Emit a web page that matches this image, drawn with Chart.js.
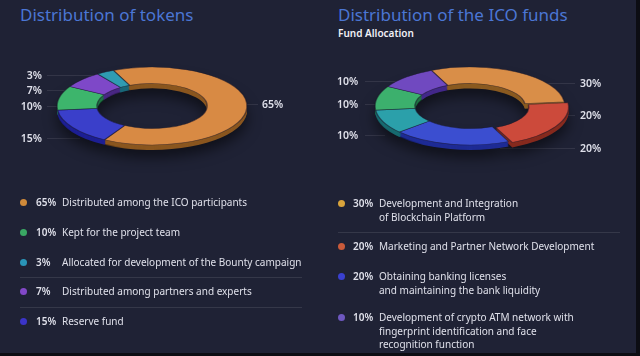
<!DOCTYPE html>
<html>
<head>
<meta charset="utf-8">
<script src="https://cdn.jsdelivr.net/npm/chart.js@4.4.1/dist/chart.umd.min.js"></script>
<style>
  body { margin: 0; background: #0c0d13; }
  #panel { position: relative; width: 636px; height: 353px; background: #1f2235; overflow: hidden;
           font-family: "Noto Sans", sans-serif; color: #dfe0ea; }
  .title { position: absolute; top: 3px; font-size: 17px; color: #4b76d4; white-space: nowrap; }
  .sub { position: absolute; top: 26px; left: 338px; font-size: 10px; font-weight: 600; color: #f0f0f5; }
  canvas { position: absolute; top: 0; }
  .pct { position: absolute; font-size: 10.5px; font-weight: 600; line-height: 14px; white-space: nowrap; }
  .lead { position: absolute; height: 1px; background: rgba(255,255,255,0.09); }
  .row { position: absolute; font-size: 10px; line-height: 13.5px; white-space: nowrap; }
  .row .dot { position: absolute; left: 0; top: 3px; width: 7px; height: 7px; border-radius: 50%; }
  .row .p { position: absolute; font-weight: 600; }
  .row .t { position: absolute; }
  .sep { position: absolute; height: 1px; background: rgba(255,255,255,0.1); }
</style>
</head>
<body>
<div id="panel">
  <div class="title" style="left:20px">Distribution of tokens</div>
  <div class="title" style="left:338px">Distribution of the ICO funds</div>
  <div class="sub">Fund Allocation</div>
  <div id="leads"></div>
  <canvas id="tokenChart" width="300" height="212" style="left:2px"></canvas>
  <canvas id="fundChart" width="300" height="212" style="left:320px"></canvas>
</div>
<script>
// tokens, in drawing order (clockwise from the top)
const tokenLabels = [
  "Distributed among the ICO participants",
  "Reserve fund",
  "Kept for the project team",
  "Distributed among partners and experts",
  "Allocated for development of the Bounty campaign"
];
const tokenValues = [65, 15, 10, 7, 3];
const tokenColors = ["#d88a44", "#3a3fca", "#3db56c", "#7e48c8", "#2f9cb2"];
const tokenSides = ["#8a561f", "#1d1f94", "#1e7444", "#492783", "#196777"];
const tokenDots = ["#d08a3a", "#3b34c8", "#3aa864", "#8248c8", "#2a95b8"];
const tokenLegendOrder = [0, 2, 4, 3, 1];

// ICO funds, in drawing order
const fundLabels = [
  "Development and Integration\nof Blockchain Platform",
  "Marketing and Partner Network Development",
  "Obtaining banking licenses\nand maintaining the bank liquidity",
  "",
  "",
  "Development of crypto ATM network with\nfingerprint identification and face\nrecognition function"
];
const fundValues = [30, 20, 20, 10, 10, 10];
const fundColors = ["#d98e48", "#cc4a3b", "#3b4ed0", "#2ba0aa", "#3cb06d", "#7049c0"];
const fundSides = ["#8a5a20", "#862a1e", "#1e2b95", "#176a70", "#1e7244", "#43288a"];
const fundDots = ["#d9a43c", "#c95a3a", "#3a40d0", "#2ba0aa", "#3cb06d", "#6e58c0"];
const fundOffsets = [0, 16, 0, 0, 0, 0];
const fundLegendOrder = [0, 1, 2, 5];

// fake 3D: squash the ring and stack darker copies under it
const tilt3d = {
  id: "tilt3d",
  beforeDatasetsDraw(chart, args, opts) {
    const ctx = chart.ctx;
    const arcs = chart.getDatasetMeta(0).data;
    const cx = arcs[0].x, cy = arcs[0].y;
    ctx.save();
    ctx.translate(cx, cy);
    ctx.scale(1, opts.squash);
    ctx.translate(-cx, -cy);
    for (let d = opts.depth; d >= 1; d--) {
      ctx.save();
      ctx.translate(0, d / opts.squash);
      if (d === opts.depth) {
        ctx.shadowColor = "rgba(0,0,0,0.55)";
        ctx.shadowBlur = 14;
        ctx.shadowOffsetY = 7;
      }
      arcs.forEach((a, i) => {
        const p = a.getProps(["x", "y", "startAngle", "endAngle", "innerRadius", "outerRadius", "circumference"]);
        const mid = (p.startAngle + p.endAngle) / 2;
        const o = (a.options.offset || 0) / 4;
        const off = o + o * (1 - Math.sin(Math.min(Math.PI, p.circumference)));
        const x = p.x + Math.cos(mid) * off, y = p.y + Math.sin(mid) * off;
        ctx.beginPath();
        ctx.arc(x, y, p.outerRadius, p.startAngle, p.endAngle);
        ctx.arc(x, y, p.innerRadius, p.endAngle, p.startAngle, true);
        ctx.closePath();
        ctx.fillStyle = opts.sides[i];
        ctx.fill();
      });
      ctx.restore();
    }
  },
  afterDatasetsDraw(chart) {
    chart.ctx.restore();
  }
};

function makeRing(id, values, colors, sides, offsets) {
  return new Chart(document.getElementById(id), {
    type: "doughnut",
    data: {
      labels: values.map(String),
      datasets: [{
        data: values,
        backgroundColor: colors,
        borderColor: "rgba(25,22,40,0.55)",
        borderWidth: 1.5,
        offset: offsets,
        clip: false
      }]
    },
    options: {
      responsive: false,
      animation: false,
      events: [],
      radius: 95,
      cutout: "58%",
      rotation: -24,
      layout: { padding: 0 },
      plugins: {
        legend: { display: false },
        tooltip: { enabled: false },
        tilt3d: { squash: 0.41, depth: 5, sides: sides }
      }
    },
    plugins: [tilt3d]
  });
}

makeRing("tokenChart", tokenValues, tokenColors, tokenSides, tokenValues.map(() => 0));
makeRing("fundChart", fundValues, fundColors, fundSides, fundOffsets);

// percentage callouts round the rings, with their faint leader lines
const panel = document.getElementById("panel");
const leads = document.getElementById("leads");
function callout(values, idx, x, y, right, l1, l2) {
  const d = document.createElement("div");
  d.className = "pct";
  d.textContent = values[idx] + "%";
  d.style.top = (y - 7) + "px";
  if (right) d.style.right = (636 - x) + "px"; else d.style.left = x + "px";
  panel.appendChild(d);
  const ln = document.createElement("div");
  ln.className = "lead";
  ln.style.left = l1 + "px";
  ln.style.width = (l2 - l1) + "px";
  ln.style.top = y + "px";
  leads.appendChild(ln);
}
callout(tokenValues, 4, 42, 75, true, 47, 100);
callout(tokenValues, 3, 42, 90, true, 47, 75);
callout(tokenValues, 2, 42, 106, true, 47, 60);
callout(tokenValues, 1, 42, 138, true, 47, 80);
callout(tokenValues, 0, 262, 104, false, 240, 258);
callout(fundValues, 5, 337, 81, false, 365, 420);
callout(fundValues, 4, 337, 104, false, 365, 380);
callout(fundValues, 3, 337, 135, false, 365, 385);
callout(fundValues, 0, 580, 83, false, 545, 575);
callout(fundValues, 1, 580, 115, false, 560, 575);
callout(fundValues, 2, 580, 148, false, 500, 575);

function legendRow(value, text, color, x, y, pctX, textX) {
  const r = document.createElement("div");
  r.className = "row";
  r.style.left = x + "px";
  r.style.top = (y - 7) + "px";
  r.innerHTML = '<span class="dot" style="background:' + color + '"></span>' +
    '<span class="p" style="left:' + pctX + 'px">' + value + '%</span>' +
    '<span class="t" style="left:' + textX + 'px">' + text.replace(/\n/g, "<br>") + '</span>';
  panel.appendChild(r);
}
const tokenRowY = [203, 233, 263, 292, 322];
tokenLegendOrder.forEach((i, k) => legendRow(tokenValues[i], tokenLabels[i], tokenDots[i], 20, tokenRowY[k], 16, 42));
const fundRowY = [204, 247, 277, 318];
fundLegendOrder.forEach((i, k) => legendRow(fundValues[i], fundLabels[i], fundDots[i], 338, fundRowY[k], 15, 41));

function sep(x, y, w) {
  const s = document.createElement("div");
  s.className = "sep";
  s.style.left = x + "px"; s.style.top = y + "px"; s.style.width = w + "px";
  panel.appendChild(s);
}
sep(20, 277, 282);
sep(20, 307, 282);
sep(338, 232, 282);
</script>
</body>
</html>
